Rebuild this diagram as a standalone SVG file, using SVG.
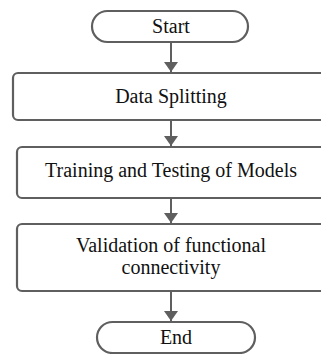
<svg xmlns="http://www.w3.org/2000/svg" width="321" height="354" viewBox="0 0 321 354">
<defs>
<style>
.shape{fill:#fff;stroke:#5f5f5f;stroke-width:2.2}
.t{font-family:"Liberation Serif","Times New Roman",serif;font-size:20px;fill:#111;text-anchor:middle}
.c{stroke:#5f5f5f;stroke-width:2;fill:none}
</style>
<marker id="ah" markerWidth="10" markerHeight="14" refX="10" refY="7" orient="auto" markerUnits="userSpaceOnUse">
<path d="M0,0 L10,7 L0,14 Z" fill="#5f5f5f"/>
</marker>
</defs>
<rect width="321" height="354" fill="#fff"/>
<g id="connectors">
<line class="c" x1="171" y1="43" x2="171" y2="72" marker-end="url(#ah)"/>
<line class="c" x1="171" y1="121" x2="171" y2="146" marker-end="url(#ah)"/>
<line class="c" x1="171" y1="199" x2="171" y2="223" marker-end="url(#ah)"/>
<line class="c" x1="171" y1="292" x2="171" y2="321" marker-end="url(#ah)"/>
</g>
<g id="start">
<rect class="shape" x="92" y="11" width="156" height="31" rx="15.5"/>
<text class="t" x="171" y="33">Start</text>
</g>
<g id="data-splitting">
<rect class="shape" x="13" y="73" width="320" height="47" rx="5"/>
<text class="t" x="171" y="103">Data Splitting</text>
</g>
<g id="training">
<rect class="shape" x="17" y="147" width="316" height="51" rx="5"/>
<text class="t" x="171" y="177">Training and Testing of Models</text>
</g>
<g id="validation">
<rect class="shape" x="17" y="224" width="316" height="67" rx="5"/>
<text class="t" x="171" y="252">Validation of functional</text>
<text class="t" x="171" y="274">connectivity</text>
</g>
<g id="end">
<rect class="shape" x="97" y="322" width="158" height="31" rx="15.5"/>
<text class="t" x="176" y="344">End</text>
</g>
</svg>
